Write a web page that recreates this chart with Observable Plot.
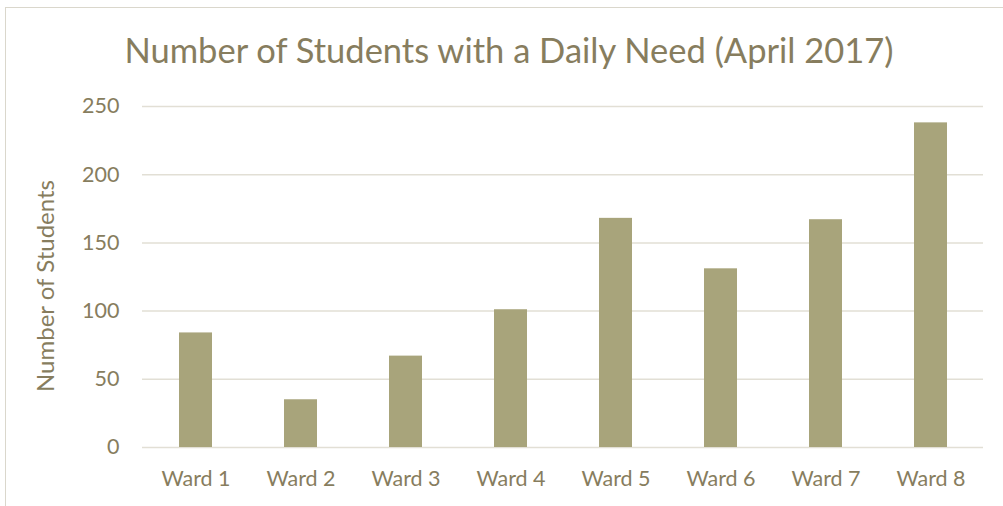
<!DOCTYPE html>
<html>
<head>
<meta charset="utf-8">
<script src="https://cdn.jsdelivr.net/npm/d3@7"></script>
<script src="https://cdn.jsdelivr.net/npm/@observablehq/plot@0.6"></script>
<style>
  html, body { margin: 0; padding: 0; background: #fff; width: 1003px; height: 506px; overflow: hidden; }
  #wrap { position: relative; width: 1003px; height: 506px; }
  #frame { position: absolute; left: 5px; top: 7px; width: 1010px; height: 510px; border: 1.5px solid #DAD7CC; box-sizing: border-box; }
  #title { position: absolute; left: 0; width: 1018px; top: 29px; text-align: center; font-family: Lato, "Open Sans", sans-serif; font-size: 34.5px; color: #877D5E; white-space: nowrap; }
  #ylabel { position: absolute; left: 44px; top: 286px; transform: translate(-50%, -50%) rotate(-90deg); font-family: Lato, "Open Sans", sans-serif; font-size: 24px; color: #877D5E; white-space: nowrap; }
  #chart { position: absolute; left: 0; top: 0; }
</style>
</head>
<body>
<div id="wrap">
  <div id="frame"></div>
  <div id="chart"></div>
  <div id="title">Number of Students with a Daily Need (April 2017)</div>
  <div id="ylabel">Number of Students</div>
</div>
<script>
const wards = ["Ward 1", "Ward 2", "Ward 3", "Ward 4", "Ward 5", "Ward 6", "Ward 7", "Ward 8"];
const students = [84, 35, 67, 101, 168, 131, 167, 238];
const yTicks = [0, 50, 100, 150, 200, 250];

const data = wards.map((w, i) => ({ward: w, value: students[i]}));
const textColor = "#877D5E";

const chart = Plot.plot({
  width: 1003,
  height: 506,
  marginLeft: 142,
  marginRight: 20,
  marginTop: 106,
  marginBottom: 59,
  style: { fontFamily: "Lato, 'Open Sans', sans-serif", fontSize: "21.5px", color: textColor, background: "transparent", overflow: "visible" },
  x: { domain: wards, paddingInner: 0.686, paddingOuter: 0.343, label: null },
  y: { domain: [0, 250], label: null },
  marks: [
    Plot.ruleY(yTicks, { stroke: "#E2DFD5", strokeWidth: 1.5 }),
    Plot.barY(data, { x: "ward", y: "value", fill: "#A8A47B" }),
    Plot.axisY({ ticks: yTicks, tickSize: 0, tickPadding: 23, label: null, fill: textColor, fontSize: 21.5 }),
    Plot.axisX({ tickSize: 0, tickPadding: 23, label: null, fill: textColor, fontSize: 21.5 })
  ]
});
document.getElementById("chart").appendChild(chart);
</script>
</body>
</html>
